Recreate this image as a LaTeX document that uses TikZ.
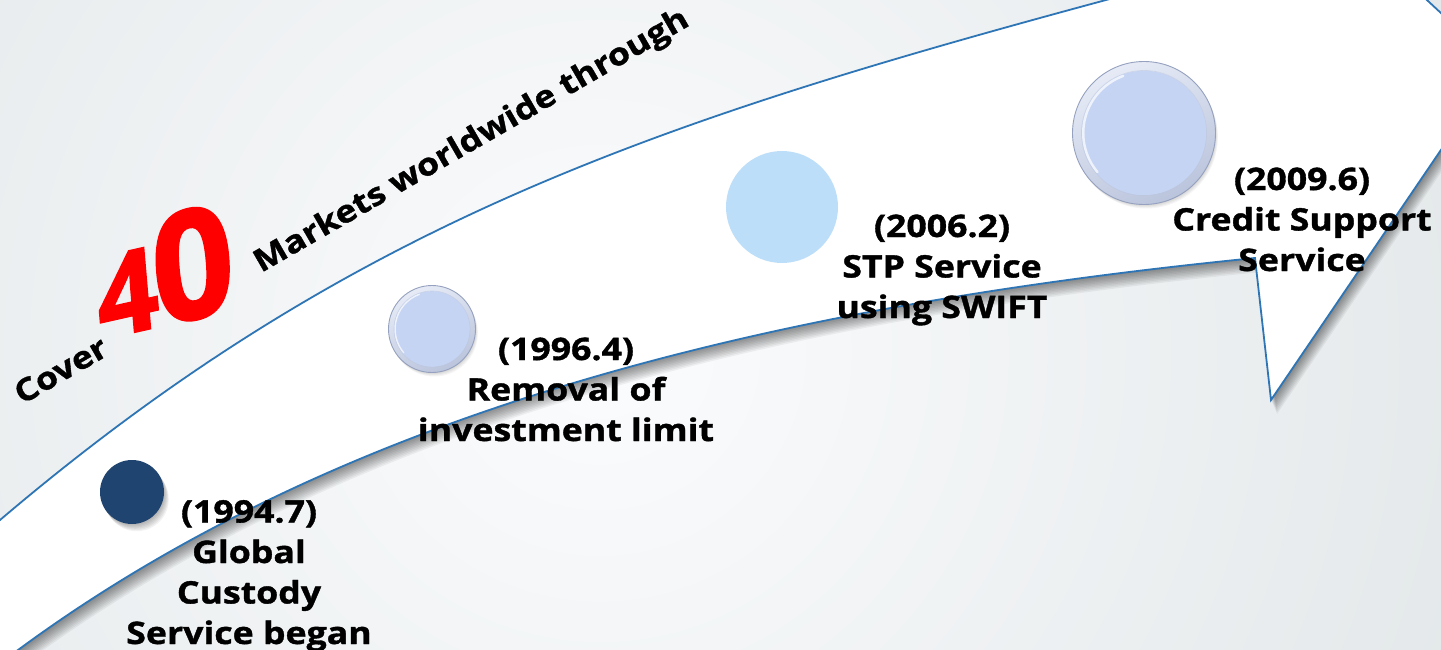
\documentclass[tikz,border=0pt]{standalone}
\usepackage{fontspec}
\setmainfont{Open Sans}[FakeStretch=1.15, BoldFeatures={FakeBold=1.2}]
\newfontfamily\fortyfont{Open Sans}[BoldFeatures={FakeBold=1.5}]
\usetikzlibrary{calc}
\definecolor{edgeblue}{HTML}{2E75B6}
\definecolor{navy}{HTML}{1F4470}
\definecolor{skyb}{HTML}{BDDEF8}
\definecolor{rimLight}{HTML}{E6EBF6}
\definecolor{rimDark}{HTML}{BAC4DC}
\definecolor{rimLine}{HTML}{95A1BE}
\definecolor{discA}{HTML}{C6D4F4}
\definecolor{bgA}{HTML}{FBFCFD}
\definecolor{bgB}{HTML}{E0E5E7}
\tikzset{
  lbl/.style={align=center, font=\bfseries\fontsize{31}{40.5}\selectfont, inner sep=0pt, anchor=base, text=black},
  rot/.style={font=\bfseries\fontsize{31}{38}\selectfont, inner sep=0pt, anchor=base west, rotate=30},
  band/.style={fill=white, draw=edgeblue, line width=1.8pt, line join=miter},
  dot/.style={circle, inner sep=0pt, draw=none},
}
\newcommand{\bandpath}{(-60,-571) -- (0,-520) .. controls (350,-222.5) and (656,-121.5) .. (1106,0) -- (1255,40) -- (1233,180) -- (1498,-66) -- (1271,-400) -- (1255,-258) .. controls (805,-303) and (360,-398) .. (18,-650) -- (-40,-690) -- cycle}
\newcommand{\glassdisc}[2]{%
  \foreach \k in {1,...,4}{\fill[black, opacity=0.04] ($(#1.center)+(0.6*\k,-1.0*\k)$) circle (#2);}
  \shade[top color=rimLight, bottom color=rimDark, shading angle=25] (#1.center) circle (#2);
  \draw[rimLine, line width=0.9pt] (#1.center) circle (#2);
  \fill[discA] (#1.center) circle (0.87*#2);
  \draw[white, line width=0.035*#2, opacity=0.7, line cap=round] ($(#1.center)+(110:0.85*#2)$) arc (110:220:0.85*#2);
  \draw[rimDark, line width=0.6pt, opacity=0.5] (#1.center) circle (0.875*#2);
}
\begin{document}
\begin{tikzpicture}[x=1pt,y=1pt]
\useasboundingbox (0,0) rectangle (1441,-650);
\clip (0,0) rectangle (1441,-650);
% background
\shade[inner color=bgA, outer color=bgB] (-450,700) rectangle (1650,-1400);
% shadow of the arrow band
\foreach \i in {1,...,10}{\fill[black, opacity=0.05, shift={(0.6*\i,-1.4*\i)}] \bandpath;}
% arrow band
\path[band] \bandpath;
% milestone dots
\foreach \k in {1,...,6}{\fill[black, opacity=0.05] (132+0.8*\k,-492-1.2*\k) circle (32);}
\node[dot, fill=navy, minimum size=64pt] (c1) at (132,-492) {};
\node[dot, minimum size=87pt] (c2) at (432,-329) {};
\glassdisc{c2}{43.5}
\node[dot, fill=skyb, minimum size=112pt] (c3) at (782,-207) {};
\node[dot, minimum size=143pt] (c4) at (1144,-133) {};
\glassdisc{c4}{71.5}
% labels (anchor = baseline of the last line)
\node[lbl] (t1) at (249,-644) {(1994.7)\\Global\\Custody\\Service began};
\node[lbl] (t2) at (566,-441) {(1996.4)\\Removal of\\investment limit};
\node[lbl] (t3) at (942,-318) {(2006.2)\\STP Service\\using SWIFT};
\node[lbl] (t4) at (1302,-271) {(2009.6)\\Credit Support\\Service};
% slogan along the arrow
\node[rot] (cover) at (22,-405) {Cover};
\node[font=\fortyfont\bfseries, text=red, inner sep=0pt, anchor=base west, xscale=0.92, xslant=0.12, rotate=12] (forty) at (100,-340) {\fontsize{116}{116}\selectfont 4\kern-5pt\fontsize{154}{154}\selectfont 0};
\node[rot] (markets) at (261,-273) {Markets worldwide through};
\end{tikzpicture}
\end{document}
